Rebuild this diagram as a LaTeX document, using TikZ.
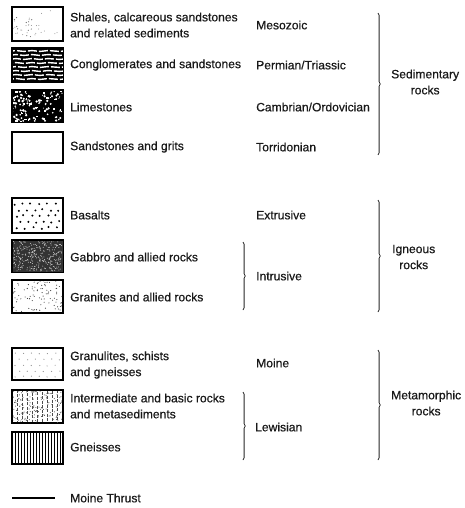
\documentclass[tikz,border=0pt]{standalone}
\usepackage{fontspec}
\setmainfont{Liberation Sans}[FakeBold=0.6]
\usetikzlibrary{decorations.pathreplacing}
\begin{document}
\begin{tikzpicture}[x=1pt,y=-1pt,
  legbox/.style={draw=black,line width=1.2pt,minimum width=50pt,minimum height=32pt,inner sep=0pt,anchor=north west},
  lbl/.style={anchor=west,inner sep=0pt,align=left,font=\fontsize{12.1}{16}\selectfont,text=black!90},
  grp/.style={anchor=west,inner sep=0pt,align=center,font=\fontsize{12.1}{16}\selectfont,text=black!90},
  brc/.style={decorate,decoration={brace,amplitude=2.2pt},line width=0.8pt,black!85},
  thrust/.style={line width=1.3pt}]
\useasboundingbox (0,0) rectangle (465,508);
\pgfmathsetseed{4242}
% ---------- boxes ----------
\node[legbox,minimum height=33pt] (s1) at (12,7) {};
\node[legbox,minimum height=33pt] (s2) at (12,48) {};
\node[legbox,minimum height=31pt] (s3) at (12,90) {};
\node[legbox,minimum height=30pt] (s4) at (12,132) {};
\node[legbox,minimum height=34pt] (i1) at (12,198) {};
\node[legbox,minimum height=31pt] (i2) at (12,240) {};
\node[legbox,minimum height=32pt] (i3) at (12,280) {};
\node[legbox,minimum height=31pt] (m1) at (12,348) {};
\node[legbox,minimum height=32pt] (m2) at (12,390) {};
\node[legbox,minimum height=31pt] (m3) at (12,432) {};
% shales
\begin{scope}
\clip (s1.south west) rectangle (s1.north east);
\foreach \i in {1,...,30}{\fill[black!45] ([shift={({rnd*50},{rnd*33})}]s1.north west) circle (0.5);}
\foreach \i in {1,...,12}{\fill[black!60] ([shift={({rnd*20},{10+rnd*23})}]s1.north west) circle (0.6);}
\end{scope}
% conglomerates
\begin{scope}
\clip (s2.south west) rectangle (s2.north east);
\fill[black] (s2.south west) rectangle (s2.north east);
\foreach \r in {3,7,...,31}{
  \draw[white,line width=1.4pt,dash pattern=on 9pt off 2pt,dash phase={\r*2}]
   ([shift={(0,\r)}]s2.north west) .. controls +(8,-1.2) and +(-8,1.2) .. ++(16,0)
   .. controls +(8,-1.2) and +(-8,1.2) .. ++(16,0)
   .. controls +(8,-1.2) and +(-8,1.2) .. ++(20,0);}
\end{scope}
% limestones
\begin{scope}
\clip (s3.south west) rectangle (s3.north east);
\fill[black] (s3.south west) rectangle (s3.north east);
\foreach \i in {1,...,110}{\fill[white] ([shift={({rnd*50},{rnd*31})}]s3.north west) circle ({0.5+rnd*0.8});}
\foreach \i in {1,...,25}{\fill[white] ([shift={({rnd*50},{rnd*31})}]s3.north west) rectangle ++({1+rnd*2},{0.8+rnd*1.2});}
\end{scope}
% basalts
\begin{scope}
\clip (i1.south west) rectangle (i1.north east);
\foreach \r/\o in {5/2,11/6,17/3,23/7,29/4}{
  \foreach \c in {0,8,...,48}{\fill[black] ([shift={({\c+\o+rnd*2},{\r+rnd*2})}]i1.north west) circle (1.1);}}
\end{scope}
% gabbro
\begin{scope}
\clip (i2.south west) rectangle (i2.north east);
\fill[black!80] (i2.south west) rectangle (i2.north east);
\foreach \i in {1,...,320}{\fill[white!80!black] ([shift={({rnd*50},{rnd*31})}]i2.north west) circle (0.5);}
\end{scope}
% granites
\begin{scope}
\clip (i3.south west) rectangle (i3.north east);
\foreach \i in {1,...,90}{\fill[black!80] ([shift={({rnd*50},{rnd*32})}]i3.north west) circle (0.55);}
\end{scope}
% granulites
\begin{scope}
\clip (m1.south west) rectangle (m1.north east);
\foreach \r/\o in {5/3,11/7,17/3,23/7,28/3}{
  \foreach \c in {0,8,...,48}{\fill[black!45] ([shift={({\c+\o+rnd},{\r+rnd})}]m1.north west) circle (0.6);}}
\end{scope}
% intermediate
\begin{scope}
\clip (m2.south west) rectangle (m2.north east);
\foreach \i in {1,...,150}{\fill[black!75] ([shift={({rnd*50},{rnd*32})}]m2.north west) circle (0.5);}
\foreach \c in {5,10,...,45}{\draw[black!70,line width=0.7pt,dash pattern=on 3pt off 1.5pt,dash phase={\c}] ([shift={(\c,0)}]m2.north west) -- ++(0,32);}
\end{scope}
% gneisses
\begin{scope}
\clip (m3.south west) rectangle (m3.north east);
\foreach \c in {3,6,...,48}{\draw[black,line width=0.9pt] ([shift={(\c,0)}]m3.north west) -- ++(0,31);}
\end{scope}
% redraw borders
\foreach \b in {s1,s2,s3,s4,i1,i2,i3,m1,m2,m3}{\draw[line width=1.2pt] (\b.south west) rectangle (\b.north east);}
% ---------- labels column 1 ----------
\node[lbl] (t1) at (70,25) {Shales, calcareous sandstones\\and related sediments};
\node[lbl] (t2) at (70,65) {Conglomerates and sandstones};
\node[lbl] (t3) at (70,107) {Limestones};
\node[lbl] (t4) at (70,147) {Sandstones and grits};
\node[lbl] (t5) at (70,215) {Basalts};
\node[lbl] (t6) at (70,257) {Gabbro and allied rocks};
\node[lbl] (t7) at (70,297) {Granites and allied rocks};
\node[lbl] (t8) at (70,365) {Granulites, schists\\and gneisses};
\node[lbl] (t9) at (70,406) {Intermediate and basic rocks\\and metasediments};
\node[lbl] (t10) at (70,447) {Gneisses};
\node[lbl] (t11) at (70,498) {Moine Thrust};
% ---------- labels column 2 ----------
\node[lbl] (a1) at (256,25) {Mesozoic};
\node[lbl] (a2) at (256,65) {Permian/Triassic};
\node[lbl] (a3) at (256,107) {Cambrian/Ordovician};
\node[lbl] (a4) at (256,147) {Torridonian};
\node[lbl] (a5) at (256,215) {Extrusive};
\node[lbl] (a6) at (256,276) {Intrusive};
\node[lbl] (a7) at (256,363) {Moine};
\node[lbl] (a8) at (255,427) {Lewisian};
% ---------- group labels ----------
\node[grp] (g1) at (391,82) {Sedimentary\\rocks};
\node[grp] (g2) at (392,257) {Igneous\\rocks};
\node[grp] (g3) at (391,403) {Metamorphic\\rocks};
% ---------- braces ----------
\coordinate (b1a) at (378,13);  \coordinate (b1b) at (378,155);
\coordinate (b2a) at (378,200); \coordinate (b2b) at (378,312);
\coordinate (b3a) at (243,242); \coordinate (b3b) at (243,310);
\coordinate (b4a) at (378,350); \coordinate (b4b) at (378,460);
\coordinate (b5a) at (243,392); \coordinate (b5b) at (243,460);
\draw[brc] (b1a) -- (b1b);
\draw[brc] (b2a) -- (b2b);
\draw[brc] (b3a) -- (b3b);
\draw[brc] (b4a) -- (b4b);
\draw[brc] (b5a) -- (b5b);
% ---------- thrust line ----------
\coordinate (th1) at (12,498); \coordinate (th2) at (55,498);
\draw[thrust] (th1) -- (th2);
\end{tikzpicture}
\end{document}
